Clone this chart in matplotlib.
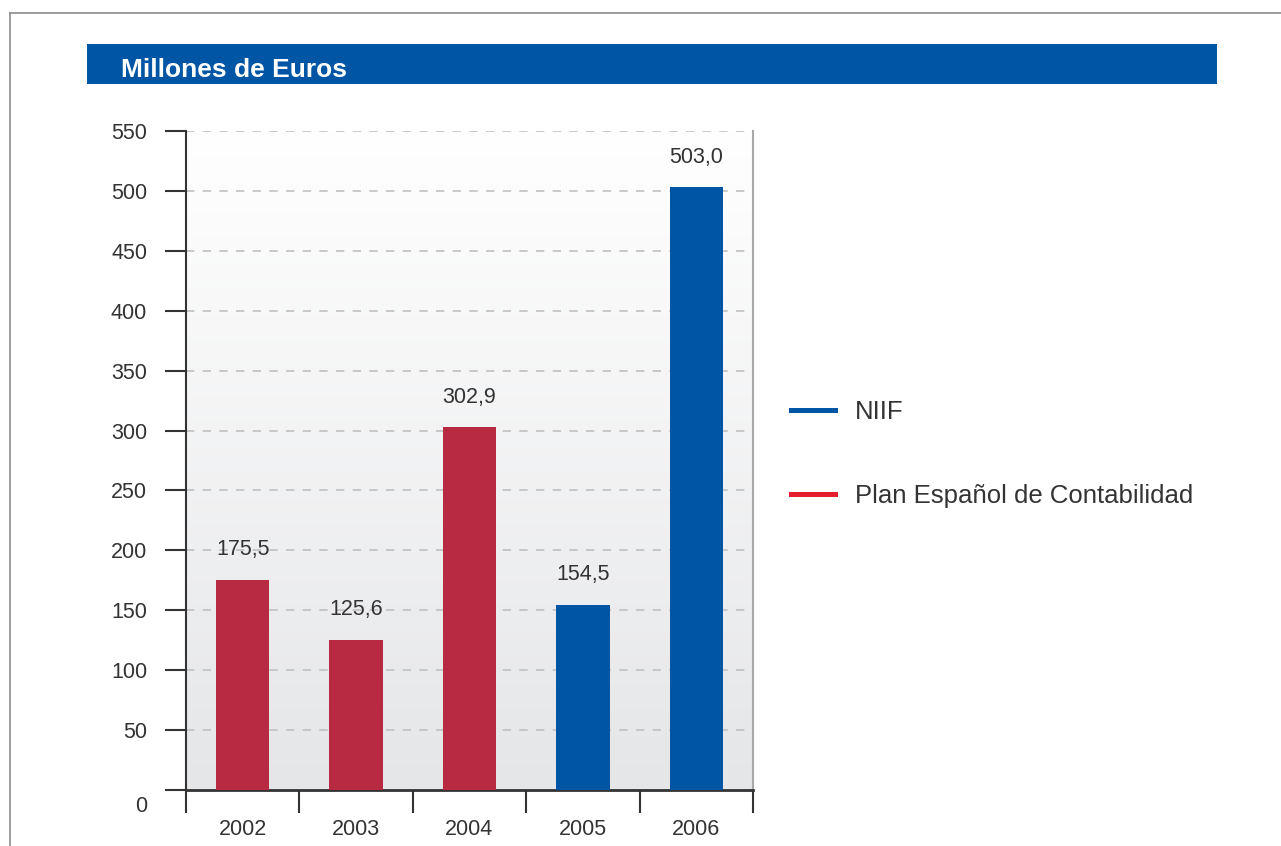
import matplotlib
matplotlib.use("Agg")
import matplotlib.pyplot as plt
import numpy as np
from matplotlib.lines import Line2D
from matplotlib.patches import Rectangle
from matplotlib.colors import LinearSegmentedColormap
import matplotlib.transforms as mtransforms

# ---- data ----
years = ['2002', '2003', '2004', '2005', '2006']
values = [175.5, 125.6, 302.9, 154.5, 503.0]
standard = ['PEC', 'PEC', 'PEC', 'NIIF', 'NIIF']
y_ticks = [0, 50, 100, 150, 200, 250, 300, 350, 400, 450, 500, 550]
title = 'Millones de Euros'
legend_labels = ['NIIF', 'Plan Español de Contabilidad']

BLUE = '#0055a4'
BAR_RED = '#b72a42'
LEG_RED = '#e41e2d'
TXT = '#333333'
bar_colors = {'NIIF': BLUE, 'PEC': BAR_RED}

plt.rcParams['font.family'] = ['Liberation Sans', 'DejaVu Sans']

W, H = 1281, 846
fig = plt.figure(figsize=(W / 100, H / 100), dpi=100)

def fx(px):
    return px / W

def fy(py):
    return 1 - py / H

# outer frame (top and left)
fig.add_artist(Line2D([fx(10), 1.0], [fy(13), fy(13)], color='#8c8c8c', lw=1.2))
fig.add_artist(Line2D([fx(10), fx(10)], [fy(13), 0.0], color='#8c8c8c', lw=1.2))

# header bar
fig.add_artist(Rectangle((fx(87), fy(84)), fx(1217) - fx(87), fy(44) - fy(84),
                         facecolor=BLUE, edgecolor='none', transform=fig.transFigure))
fig.text(fx(121), fy(77), title, color='white', fontsize=19, fontweight='bold',
         va='baseline', ha='left')

# axes
ax = fig.add_axes([fx(186), fy(790), fx(753) - fx(186), fy(131) - fy(790)])
x = np.arange(len(years))

# gradient background
grad = np.linspace(0, 1, 256).reshape(-1, 1)
cmap = LinearSegmentedColormap.from_list('bg', ['#e5e6e8', '#ffffff'])
ax.imshow(grad, extent=[0, 1, 0, 1], transform=ax.transAxes, cmap=cmap,
          aspect='auto', origin='lower', zorder=0)

bars = ax.bar(x, values, width=0.47, color=[bar_colors[s] for s in standard],
              zorder=3)
ax.bar_label(bars, labels=[f'{v:.1f}'.replace('.', ',') for v in values],
             padding=14, fontsize=15.5, color=TXT)

ax.set_xlim(-0.5, len(years) - 0.5)
ax.set_ylim(0, 550)

# grid
for v in y_ticks[1:]:
    ax.axhline(v, xmin=0, xmax=0.99, color='#c0c0c0', lw=1.2,
               ls=(0, (5, 5)), zorder=1)

ax.set_yticks(y_ticks)
ax.set_yticklabels([str(v) for v in y_ticks])
ax.tick_params(axis='y', direction='out', length=15, width=1.5, color=TXT,
               pad=13, labelsize=15.5, labelcolor=TXT)

ax.set_xticks(np.arange(-0.5, len(years)), minor=False)
ax.set_xticklabels([''] * (len(years) + 1))
ax.set_xticks(x, minor=True)
ax.set_xticklabels(years, minor=True)
ax.tick_params(axis='x', which='major', direction='out', length=16.5,
               width=1.5, color=TXT)
ax.tick_params(axis='x', which='minor', length=0, pad=21, labelsize=15.5,
               labelcolor=TXT)

# shift the "0" label slightly down as in the reference
for lbl in ax.get_yticklabels():
    if lbl.get_text() == '0':
        lbl.set_transform(lbl.get_transform() +
                          mtransforms.ScaledTranslation(0, -14 / 100, fig.dpi_scale_trans))

ax.spines['top'].set_visible(False)
ax.spines['left'].set_color(TXT)
ax.spines['left'].set_linewidth(1.5)
ax.spines['bottom'].set_color(TXT)
ax.spines['bottom'].set_linewidth(2)
ax.spines['right'].set_color('#a8a8a8')
ax.spines['right'].set_linewidth(1.5)

# legend
handles = [Line2D([], [], color=BLUE, lw=3.6),
           Line2D([], [], color=LEG_RED, lw=3.6)]
fig.legend(handles, legend_labels, loc='upper left',
           bbox_to_anchor=(fx(791), fy(400)), frameon=False, fontsize=18.5,
           handlelength=1.73, handletextpad=0.75, labelspacing=2.35,
           borderaxespad=0, borderpad=0, labelcolor=TXT)

fig.savefig('out.png', dpi=100)
